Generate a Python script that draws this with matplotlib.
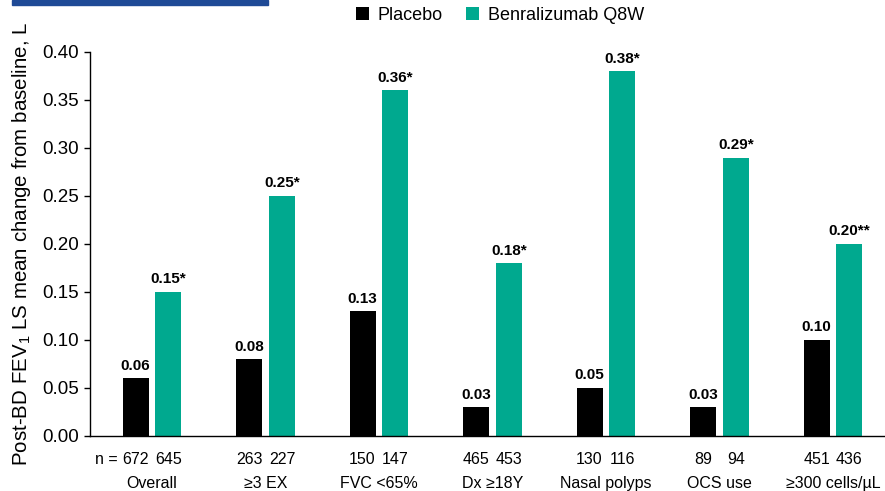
import matplotlib
matplotlib.use("Agg")
import matplotlib.pyplot as plt
from matplotlib.patches import Rectangle
import numpy as np

plt.rcParams['font.family'] = ['Liberation Sans', 'DejaVu Sans']
plt.rcParams['mathtext.default'] = 'regular'

categories = ["Overall", "\u22653 EX", "FVC <65%", "Dx \u226518Y", "Nasal polyps", "OCS use", "\u2265300 cells/\u00b5L"]
placebo = [0.06, 0.08, 0.13, 0.03, 0.05, 0.03, 0.10]
benra = [0.15, 0.25, 0.36, 0.18, 0.38, 0.29, 0.20]
placebo_labels = ["0.06", "0.08", "0.13", "0.03", "0.05", "0.03", "0.10"]
benra_labels = ["0.15*", "0.25*", "0.36*", "0.18*", "0.38*", "0.29*", "0.20**"]
n_placebo = [672, 263, 150, 465, 130, 89, 451]
n_benra = [645, 227, 147, 453, 116, 94, 436]
series_names = ["Placebo", "Benralizumab Q8W"]
yticks = [0.00, 0.05, 0.10, 0.15, 0.20, 0.25, 0.30, 0.35, 0.40]

c_pl = "#000000"
c_bz = "#00A98F"

W, H = 885, 491
fig = plt.figure(figsize=(W / 100, H / 100), dpi=100)
ax = fig.add_axes([90 / W, 1 - 436 / H, 795 / W, 384 / H])

x = np.arange(len(categories))
off = 0.145
bw = 0.229
ax.bar(x - off, placebo, bw, color=c_pl, label=series_names[0])
ax.bar(x + off, benra, bw, color=c_bz, label=series_names[1])

for i in range(len(categories)):
    ax.annotate(placebo_labels[i], (x[i] - off, placebo[i]), xytext=(0, 4), textcoords="offset points",
                ha="center", va="bottom", fontsize=11, fontweight="bold")
    ax.annotate(benra_labels[i], (x[i] + off, benra[i]), xytext=(0, 4), textcoords="offset points",
                ha="center", va="bottom", fontsize=11, fontweight="bold")
    ax.annotate(str(n_placebo[i]), (x[i] - off, 0), xytext=(0, -17), textcoords="offset points",
                ha="center", va="center", fontsize=11.5)
    ax.annotate(str(n_benra[i]), (x[i] + off, 0), xytext=(0, -17), textcoords="offset points",
                ha="center", va="center", fontsize=11.5)
    ax.annotate(categories[i], (x[i], 0), xytext=(0, -34), textcoords="offset points",
                ha="center", va="center", fontsize=11.5)
ax.annotate("n =", (x[0] - off, 0), xytext=(-13, -17), textcoords="offset points",
            ha="right", va="center", fontsize=11.5)

ax.set_xlim(-0.546, 6.458)
ax.set_ylim(0, 0.40)
ax.set_yticks(yticks)
ax.set_yticklabels([f"{v:.2f}" for v in yticks], fontsize=13.5)
ax.set_xticks([])
ax.tick_params(axis="y", length=4, width=1, direction="out", pad=4)
for s in ["top", "right"]:
    ax.spines[s].set_visible(False)
ax.spines["left"].set_linewidth(1)
ax.spines["bottom"].set_linewidth(1)

ax.set_ylabel("Post-BD FEV$_1$ LS mean change from baseline, L", fontsize=14.8)
ax.yaxis.set_label_coords(-57 / 795, 0.5)

leg = fig.legend(loc="center", bbox_to_anchor=(500 / W, 1 - 15 / H), ncol=2, frameon=False,
                 fontsize=13, handlelength=0.7, handleheight=0.7, handletextpad=0.5, columnspacing=1.3)

fig.patches.append(Rectangle((12 / W, 1 - 5 / H), 256 / W, 5 / H, transform=fig.transFigure,
                             color="#1F4A96", zorder=5))

fig.savefig("out.png", dpi=100)
